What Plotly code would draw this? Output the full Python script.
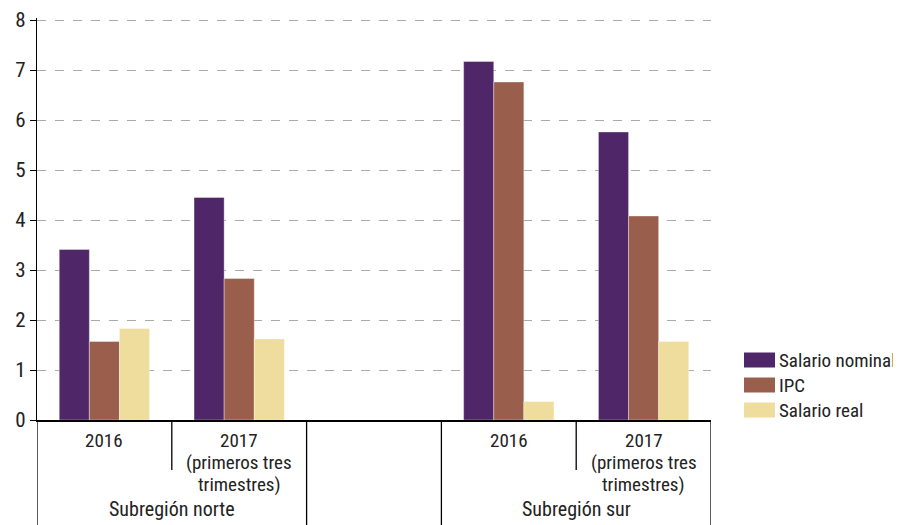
import plotly.graph_objects as go

# slots on the category axis: 0,1 = norte ; 2 = empty ; 3,4 = sur
slots = [0, 1, 3, 4]
year_labels = ["2016", "2017<br>(primeros tres<br>trimestres)",
               "2016", "2017<br>(primeros tres<br>trimestres)"]
groups = ["Subregión norte", "Subregión sur"]
group_pos = [0.5, 3.5]

salario_nominal = [3.41, 4.45, 7.17, 5.76]
ipc = [1.57, 2.83, 6.76, 4.08]
salario_real = [1.83, 1.62, 0.37, 1.57]

series_names = ["Salario nominal", "IPC", "Salario real"]
series_vals = [salario_nominal, ipc, salario_real]
colors = ["#4f2668", "#9a5e4c", "#efdd9e"]

FONT = "Roboto Condensed, Liberation Sans Narrow, DejaVu Sans Condensed, sans-serif"
TXT = "#222"

fig = go.Figure()
for name, vals, col in zip(series_names, series_vals, colors):
    fig.add_trace(go.Bar(
        x=slots, y=vals, name=name, showlegend=False,
        marker=dict(color=col, line=dict(color="rgba(255,255,255,0.6)", width=0.6)),
    ))

# plot area on screen (page has an 8px body margin): x 37..711, y 18..420
plot_w, plot_h = 674.0, 402.0

def px_x(p):
    return (p - 37) / plot_w

def px_y(p):
    return (420 - p) / plot_h

# dividers below the category axis
for xb, full in [(-0.5, True), (0.5, False), (1.5, True), (2.5, True), (3.5, False), (4.5, True)]:
    fig.add_shape(type="line", xref="x", yref="paper",
                  x0=xb, x1=xb, y0=0, y1=px_y(530 if full else 470),
                  line=dict(color="black", width=1.3))

# category labels, one annotation per line to keep the tight line spacing
for s, lab in zip(slots, year_labels):
    for i, line in enumerate(lab.split("<br>")):
        fig.add_annotation(x=s, y=px_y(440 + 22 * i), xref="x", yref="paper",
                           text=line, showarrow=False, yanchor="middle",
                           font=dict(family=FONT, size=19, color=TXT))

for g, gx in zip(groups, group_pos):
    fig.add_annotation(x=gx, y=px_y(523), xref="x", yref="paper", text=g,
                       showarrow=False, yanchor="bottom",
                       font=dict(family=FONT, size=20, color=TXT))

# legend drawn by hand (large swatches like the reference)
for i, (name, col) in enumerate(zip(series_names, colors)):
    cy = 360 + i * 25
    fig.add_shape(type="rect", xref="paper", yref="paper",
                  x0=px_x(744), x1=px_x(775), y0=px_y(cy - 7.5), y1=px_y(cy + 7.5),
                  fillcolor=col, line=dict(width=0))
    fig.add_annotation(x=px_x(777), y=px_y(cy), xref="paper", yref="paper",
                       text=name, showarrow=False, xanchor="left", yanchor="middle",
                       font=dict(family=FONT, size=19, color=TXT))

fig.update_layout(
    width=901, height=525,
    margin=dict(l=29, r=198, t=10, b=113, autoexpand=False),
    plot_bgcolor="white", paper_bgcolor="white",
    barmode="group", bargap=0.33, bargroupgap=0,
    font=dict(family=FONT, size=20, color=TXT),
    showlegend=False,
    xaxis=dict(
        range=[-0.5, 4.5], showticklabels=False,
        showgrid=False, zeroline=False, showline=True, linecolor="black",
        linewidth=1.5, ticks="", automargin=False,
    ),
    yaxis=dict(
        range=[0, 8.04], tickvals=list(range(9)), showgrid=True, gridcolor="#aaaaaa",
        griddash="dash", gridwidth=1, zeroline=False, showline=True,
        linecolor="black", linewidth=1.3, ticks="outside", ticklen=6,
        tickcolor="black", tickfont=dict(size=21), automargin=False,
        ticklabeloverflow="allow",
    ),
)

fig.write_html("out.html")
